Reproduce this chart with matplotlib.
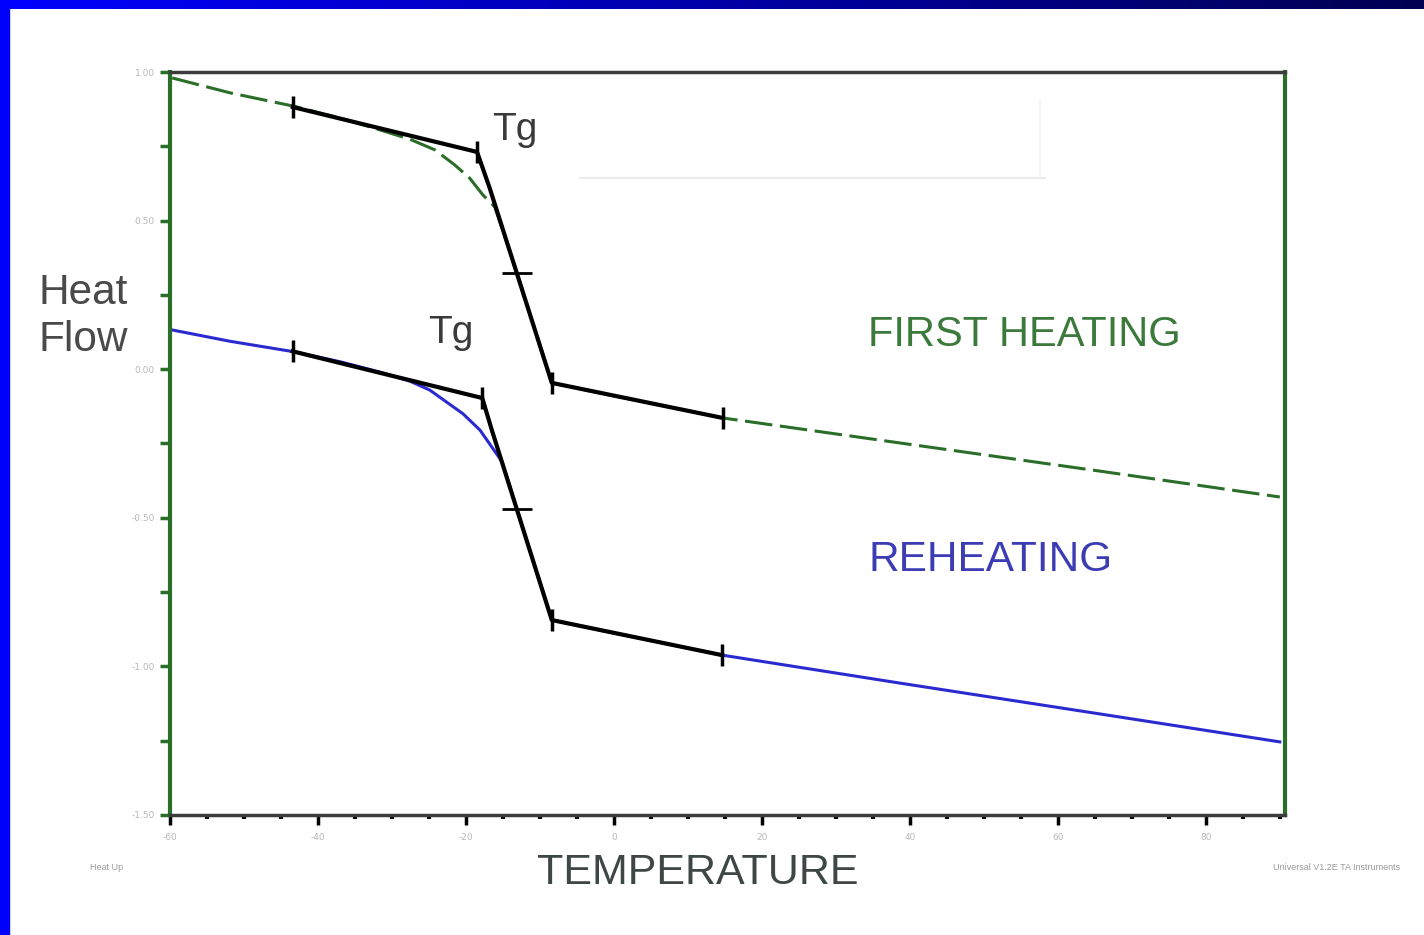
import matplotlib
matplotlib.use("Agg")
import matplotlib.pyplot as plt
import numpy as np
from matplotlib.patches import Rectangle
from matplotlib.ticker import MultipleLocator

# first heating curve (green dashed)
first_x = [-59.7, -51.9, -43.1, -37.0, -31.6, -27.6, -24.2, -21.5, -19.5, -17.7,
           -16.1, -13.1, -8.4, -1.9, 14.7, 38.6, 65.7, 90.0]
first_y = [0.980, 0.930, 0.884, 0.845, 0.805, 0.774, 0.738, 0.687, 0.643, 0.586,
           0.546, 0.324, -0.046, -0.080, -0.164, -0.248, -0.343, -0.430]

# reheating curve (blue)
re_x = [-59.7, -51.9, -43.1, -37.0, -31.6, -27.6, -24.9, -20.4, -18.1, -16.5, -15.1,
        -12.7, -8.4, -1.9, 14.6, 38.6, 65.7, 90.0]
re_y = [0.132, 0.094, 0.058, 0.025, -0.010, -0.040, -0.070, -0.150, -0.205, -0.262, -0.312,
        -0.504, -0.844, -0.878, -0.962, -1.056, -1.160, -1.254]

# tangent construction lines (black)
tan1_x = [-43.4, -18.5, -16.8, -8.4, 14.7]
tan1_y = [0.882, 0.731, 0.610, -0.046, -0.164]
tan2_x = [-43.4, -17.8, -16.5, -8.4, 14.6]
tan2_y = [0.060, -0.097, -0.205, -0.844, -0.962]

# end marks and Tg midpoints
bar1_x = [-43.4, -18.5, -8.4, 14.7]
bar1_y = [0.882, 0.731, -0.046, -0.164]
bar2_x = [-43.4, -17.8, -8.4, 14.6]
bar2_y = [0.060, -0.097, -0.844, -0.962]
mid_x = [-13.1, -13.1]
mid_y = [0.324, -0.470]

x_ticks = [-60, -40, -20, 0, 20, 40, 60, 80]
y_ticks = [1.0, 0.5, 0.0, -0.5, -1.0, -1.5]

W, H = 1424, 935
fig = plt.figure(figsize=(W / 100, H / 100), dpi=100)
fig.patch.set_facecolor("white")

# blue slide frame: left bar and gradient top bar
fig.patches.append(Rectangle((0, 0), 9 / W, 1, transform=fig.transFigure,
                             color="#0000ff", zorder=0))
bar_ax = fig.add_axes([0, 1 - 9 / H, 1, 9 / H])
grad = np.linspace(0, 1, 256)
cols = np.zeros((1, 256, 3))
cols[0, :, 2] = 1.0 - 0.68 * grad
bar_ax.imshow(cols, aspect="auto", extent=[0, 1, 0, 1])
bar_ax.axis("off")

ax = fig.add_axes([170 / W, 1 - 815 / H, 1115 / W, 743 / H])
ax.set_xlim(-60, 90.7)
ax.set_ylim(-1.5, 1.0)

green = "#2a6e2a"
ax.plot(first_x, first_y, color=green, lw=2.2, dashes=(9, 2.5), zorder=2)
ax.plot(re_x, re_y, color="#2a2ad0", lw=2.2, zorder=2)
for tx, ty in [(tan1_x, tan1_y), (tan2_x, tan2_y)]:
    ax.plot(tx, ty, color="black", lw=3, zorder=3)
ax.plot(bar1_x + bar2_x, bar1_y + bar2_y, ls="none", marker="|", ms=16, mew=2.5,
        color="black", zorder=4)
ax.plot(mid_x, mid_y, ls="none", marker="_", ms=22, mew=2, color="black", zorder=4)

# faint box outline left over from the original
ax.plot([-4.6, 58.2], [0.643, 0.643], color="#ebebeb", lw=1.5, zorder=1)
ax.plot([57.6, 57.6], [0.643, 0.906], color="#f2f2f2", lw=1.2, zorder=1)

for side in ("left", "right"):
    ax.spines[side].set_color(green)
    ax.spines[side].set_linewidth(3)
for side in ("top", "bottom"):
    ax.spines[side].set_color("#3c3c3c")
    ax.spines[side].set_linewidth(2.5)

ax.set_xticks(x_ticks)
ax.set_xticklabels([str(v) for v in x_ticks])
ax.xaxis.set_minor_locator(MultipleLocator(5))
ax.set_yticks(y_ticks)
ax.set_yticklabels(["%.2f" % v for v in y_ticks])
ax.yaxis.set_minor_locator(MultipleLocator(0.25))
ax.tick_params(axis="x", which="major", direction="out", length=7, width=2.5,
               color="black", labelsize=6.5, labelcolor="#b8b8b8", pad=6)
ax.tick_params(axis="x", which="minor", direction="out", length=3, width=3,
               color="black")
ax.tick_params(axis="y", which="both", direction="out", length=7, width=2.5,
               color=green, labelsize=6.5, labelcolor="#b8b8b8", pad=4)

font = "Liberation Sans"
fig.text(38 / W, 1 - 293 / H, "Heat", fontsize=30.5, color="#4a4a4a",
         family=font, va="center", ha="left")
fig.text(38 / W, 1 - 340 / H, "Flow", fontsize=30.5, color="#4a4a4a",
         family=font, va="center", ha="left")
fig.text(492 / W, 1 - 130 / H, "Tg", fontsize=28, color="#3a3a3a",
         family=font, va="center", ha="left")
fig.text(428 / W, 1 - 333 / H, "Tg", fontsize=28, color="#3a3a3a",
         family=font, va="center", ha="left")
fig.text(868 / W, 1 - 335 / H, "FIRST HEATING", fontsize=30, color="#3c7a3c",
         family=font, va="center", ha="left")
fig.text(868 / W, 1 - 560 / H, "REHEATING", fontsize=30.5, color="#3c3cb4",
         family=font, va="center", ha="left")
fig.text(698 / W, 1 - 873 / H, "TEMPERATURE", fontsize=31, color="#3e4646",
         family=font, va="center", ha="center")
fig.text(90 / W, 1 - 868 / H, "Heat Up", fontsize=6.5, color="#9a9a9a",
         family=font, va="center", ha="left")
fig.text(1400 / W, 1 - 868 / H, "Universal V1.2E TA Instruments", fontsize=6.5,
         color="#9a9a9a", family=font, va="center", ha="right")

fig.savefig("out.png", dpi=100, facecolor="white")
